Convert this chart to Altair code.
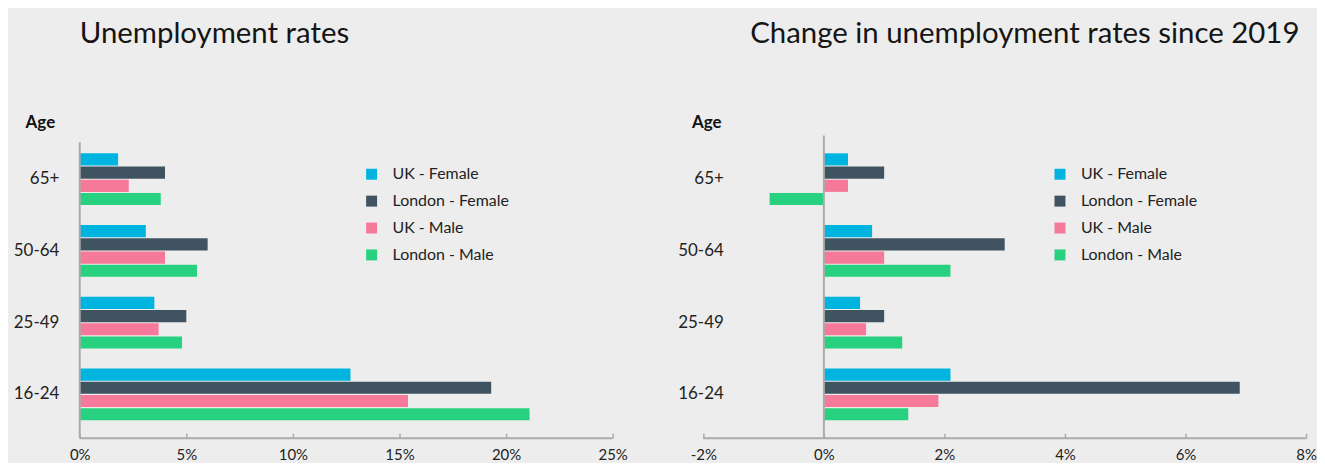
import altair as alt
import pandas as pd

ages = ["65+", "50-64", "25-49", "16-24"]
series = ["UK - Female", "London - Female", "UK - Male", "London - Male"]
colors = ["#00b4e0", "#3f5361", "#f7799a", "#27d17f"]

# Unemployment rates (%), by age group (top to bottom)
rate_uk_female = [1.8, 3.1, 3.5, 12.7]
rate_london_female = [4.0, 6.0, 5.0, 19.3]
rate_uk_male = [2.3, 4.0, 3.7, 15.4]
rate_london_male = [3.8, 5.5, 4.8, 21.1]

# Change in unemployment rates since 2019 (percentage points)
chg_uk_female = [0.4, 0.8, 0.6, 2.1]
chg_london_female = [1.0, 3.0, 1.0, 6.9]
chg_uk_male = [0.4, 1.0, 0.7, 1.9]
chg_london_male = [-0.9, 2.1, 1.3, 1.4]

left_domain = [0, 25]
left_ticks = [0, 5, 10, 15, 20, 25]
right_domain = [-2, 8]
right_ticks = [-2, 0, 2, 4, 6, 8]

FONT = "Lato"
AXIS_GREY = "#ababab"
TEXT = "#222222"
H = 304


def long_df(lists):
    rows = []
    for s, vals in zip(series, lists):
        for a, v in zip(ages, vals):
            rows.append({"age": a, "series": s, "value": v})
    return pd.DataFrame(rows)


def panel(lists, domain, ticks, width, title, title_dx, ylab_pad, age_x,
          rule_top, legend_x, min_ext):
    df = long_df(lists)
    bars = alt.Chart(df).mark_bar().encode(
        x=alt.X("value:Q",
                scale=alt.Scale(domain=domain, nice=False, zero=False),
                axis=alt.Axis(values=ticks, labelExpr="datum.value + '%'",
                              title=None, grid=False, domain=False,
                              tickSize=5, tickColor=AXIS_GREY, tickWidth=1.5,
                              offset=-5, labelPadding=9, labelFontSize=15,
                              labelFlush=False,
                              labelColor=TEXT, labelFont=FONT)),
        y=alt.Y("age:N", sort=ages,
                scale=alt.Scale(paddingInner=0.2778, paddingOuter=0.25),
                axis=alt.Axis(title="Age", titleAngle=0, titleX=age_x,
                              titleY=-13, titleAlign="center",
                              titleBaseline="middle", titleFontSize=17,
                              titleFontWeight="bold", titleColor="#111111",
                              titleFont=FONT, domain=False, ticks=False,
                              labelPadding=ylab_pad, labelFontSize=17,
                              labelColor=TEXT, labelFont=FONT,
                              minExtent=min_ext)),
        yOffset=alt.YOffset("series:N", sort=series,
                            scale=alt.Scale(paddingInner=0.08)),
        color=alt.Color("series:N", sort=series,
                        scale=alt.Scale(domain=series, range=colors),
                        legend=alt.Legend(orient="none", legendX=legend_x,
                                          legendY=31, title=None,
                                          symbolType="square", symbolSize=121,
                                          symbolStrokeWidth=0,
                                          labelFontSize=16, labelColor=TEXT,
                                          labelFont=FONT, rowPadding=11,
                                          labelOffset=13, padding=0)),
    )
    zero_line = alt.Chart(pd.DataFrame({"value": [0]})).mark_rule(
        color=AXIS_GREY, strokeWidth=2).encode(
        x=alt.X("value:Q"), y=alt.value(rule_top), y2=alt.value(H))
    base_line = alt.Chart(pd.DataFrame({"value": [domain[0]], "b": [domain[1]]})).mark_rule(
        color=AXIS_GREY, strokeWidth=2).encode(
        x=alt.X("value:Q"), x2="b:Q", y=alt.value(H))
    return alt.layer(bars, base_line, zero_line).properties(
        width=width, height=H,
        title=alt.TitleParams(title, anchor="start", frame="group",
                              fontSize=29.5, font=FONT,
                              fontWeight="normal", color="#151515",
                              offset=64, dx=title_dx),
    )


left = panel([rate_uk_female, rate_london_female, rate_uk_male, rate_london_male],
             left_domain, left_ticks, 535, "Unemployment rates", 0, 21, -40,
             7, 285, 67)
right = panel([chg_uk_female, chg_london_female, chg_uk_male, chg_london_male],
              right_domain, right_ticks, 605,
              "Change in unemployment rates since 2019", 47, -20, 3,
              0, 350, 0)

chart = alt.hconcat(left, right, spacing=50).resolve_scale(
    color="independent", x="independent", y="independent"
).resolve_legend(color="independent").properties(
    padding={"top": 10, "left": 5, "right": 0, "bottom": 0}
).configure(
    background="#ededed", font=FONT
).configure_view(stroke=None)

chart.save("out.html", embed_options={"renderer": "svg", "actions": False})
